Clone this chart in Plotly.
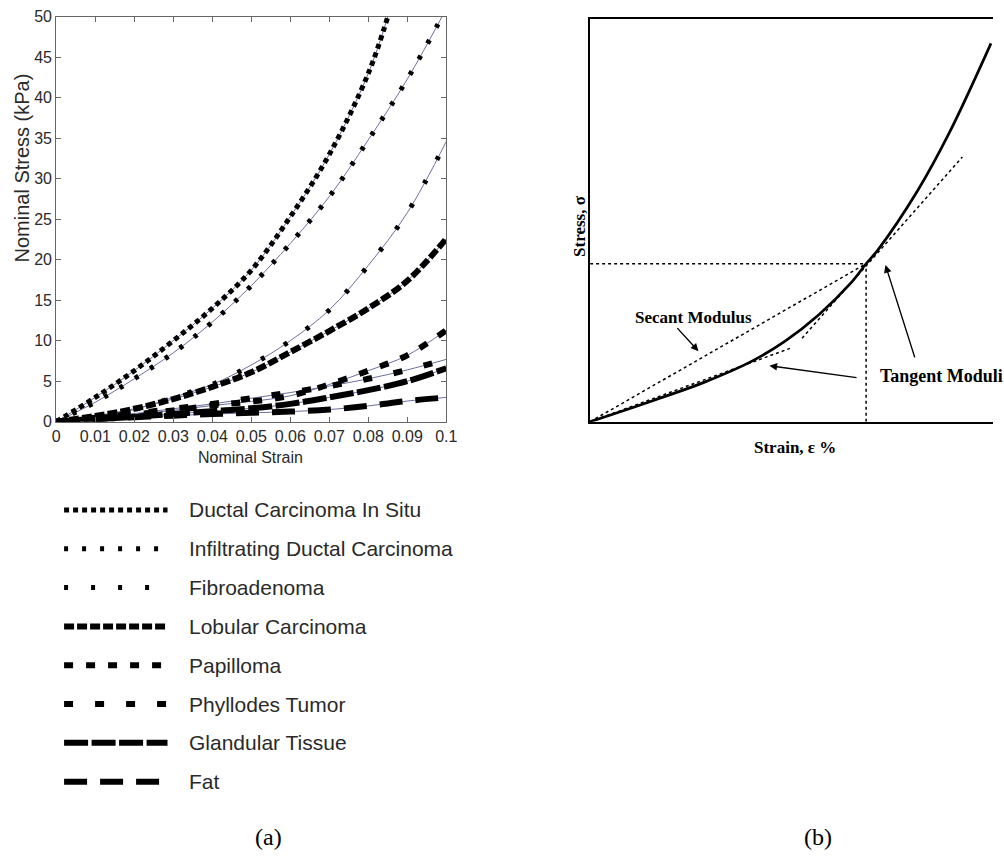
import plotly.graph_objects as go

W, H = 1004, 865

# ---------------- panel (a): nominal stress vs nominal strain ----------------
strain = [0.0, 0.01, 0.02, 0.03, 0.04, 0.05, 0.06, 0.07, 0.08, 0.09, 0.10]
strain_dcis = [0.0, 0.01, 0.02, 0.03, 0.04, 0.05, 0.06, 0.07, 0.08, 0.085]

stress_dcis = [0, 3.0, 6.3, 10.0, 14.0, 18.7, 25.3, 33.0, 43.0, 50.0]
stress_idc = [0, 2.4, 5.3, 8.5, 12.3, 16.8, 22.0, 27.8, 34.8, 42.3, 51.0]
stress_fibro = [0, 0.6, 1.5, 3.0, 4.6, 7.0, 10.0, 13.8, 19.3, 25.8, 34.6]
stress_lobular = [0, 0.7, 1.6, 2.8, 4.3, 6.1, 8.6, 11.2, 14.0, 17.4, 22.6]
stress_papilloma = [0, 0.4, 0.9, 1.4, 2.0, 2.5, 3.2, 4.6, 6.3, 8.2, 11.3]
stress_phyllodes = [0, 0.5, 1.0, 1.6, 2.2, 2.9, 3.6, 4.4, 5.3, 6.4, 7.7]
stress_glandular = [0, 0.3, 0.6, 0.95, 1.3, 1.65, 2.2, 3.0, 3.9, 5.0, 6.6]
stress_fat = [0, 0.3, 0.55, 0.75, 0.95, 1.1, 1.25, 1.5, 1.95, 2.55, 3.0]

tissue_names = [
    "Ductal Carcinoma In Situ",
    "Infiltrating Ductal Carcinoma",
    "Fibroadenoma",
    "Lobular Carcinoma",
    "Papilloma",
    "Phyllodes Tumor",
    "Glandular Tissue",
    "Fat",
]

x_tick_vals = [0, 0.01, 0.02, 0.03, 0.04, 0.05, 0.06, 0.07, 0.08, 0.09, 0.1]
x_tick_text = ["0", "0.01", "0.02", "0.03", "0.04", "0.05", "0.06", "0.07", "0.08", "0.09", "0.1"]
y_tick_vals = [0, 5, 10, 15, 20, 25, 30, 35, 40, 45, 50]

# ---------------- panel (b): schematic stress-strain curve ----------------
curve_x = [0, 1.59, 2.81, 4.03, 4.84, 5.67, 6.48, 6.85, 7.14, 8.12, 8.92, 9.95]
curve_y = [0, 0.535, 0.97, 1.51, 2.0, 2.65, 3.45, 3.92, 4.26, 5.72, 7.18, 9.39]
ref_point = (6.85, 3.92)
tangent_hi_x = [5.26, 9.24]
tangent_hi_y = [2.07, 6.57]
tangent_lo_x = [0, 4.96]
tangent_lo_y = [0, 1.82]

# line styles for each tissue: (dash pattern, width)
styles = [
    ("5px,4px", 5),
    ("4px,14px", 5),
    ("4px,23px", 5),
    ("10px,3px", 6),
    ("9px,13px", 6),
    ("9px,22px", 6),
    ("24px,3.5px", 6),
    ("23px,13px", 6),
]
series = [
    (strain_dcis, stress_dcis),
    (strain, stress_idc),
    (strain, stress_fibro),
    (strain, stress_lobular),
    (strain, stress_papilloma),
    (strain, stress_phyllodes),
    (strain, stress_glandular),
    (strain, stress_fat),
]

FIT_COLOR = "#6a6f9e"
SANS = "Liberation Sans, Arial, Helvetica, sans-serif"
SERIF = "Liberation Serif, Times New Roman, DejaVu Serif, serif"

fig = go.Figure()

# fitted curves (thin) and measured data (thick patterned)
for (xs, ys), name in zip(series, tissue_names):
    fig.add_trace(go.Scatter(x=xs, y=ys, mode="lines", line=dict(color=FIT_COLOR, width=1, shape="spline"),
                             xaxis="x", yaxis="y", showlegend=False, hoverinfo="skip"))
for (xs, ys), name, (dash, w) in zip(series, tissue_names, styles):
    fig.add_trace(go.Scatter(x=xs, y=ys, mode="lines", name=name,
                             line=dict(color="black", width=w, dash=dash, shape="spline"),
                             xaxis="x", yaxis="y", showlegend=False))

# legend samples drawn on a page-sized overlay axis (pixel units)
LEG_X0, LEG_X1, LEG_Y0, LEG_DY, LEG_TX = 61, 166, 512, 39.6, 186
for i, (name, (dash, w)) in enumerate(zip(tissue_names, styles)):
    yy = LEG_Y0 + i * LEG_DY
    fig.add_trace(go.Scatter(x=[LEG_X0, LEG_X1], y=[yy, yy], mode="lines",
                             line=dict(color="black", width=w, dash=dash),
                             xaxis="x3", yaxis="y3", showlegend=False, hoverinfo="skip"))

# panel (b) traces
fig.add_trace(go.Scatter(x=curve_x, y=curve_y, mode="lines", line=dict(color="black", width=2.7, shape="spline"),
                         xaxis="x2", yaxis="y2", showlegend=False))
DOT = dict(color="black", width=1.5, dash="3px,3px")
fig.add_trace(go.Scatter(x=[0, ref_point[0]], y=[ref_point[1], ref_point[1]], mode="lines", line=DOT,
                         xaxis="x2", yaxis="y2", showlegend=False))
fig.add_trace(go.Scatter(x=[ref_point[0], ref_point[0]], y=[0, ref_point[1]], mode="lines", line=DOT,
                         xaxis="x2", yaxis="y2", showlegend=False))
fig.add_trace(go.Scatter(x=[0, ref_point[0]], y=[0, ref_point[1]], mode="lines", line=DOT,
                         xaxis="x2", yaxis="y2", showlegend=False))
fig.add_trace(go.Scatter(x=tangent_hi_x, y=tangent_hi_y, mode="lines", line=DOT,
                         xaxis="x2", yaxis="y2", showlegend=False))
fig.add_trace(go.Scatter(x=tangent_lo_x, y=tangent_lo_y, mode="lines", line=DOT,
                         xaxis="x2", yaxis="y2", showlegend=False))

annotations = []
for i, name in enumerate(tissue_names):
    annotations.append(dict(x=LEG_TX, y=LEG_Y0 + i * LEG_DY, xref="x3", yref="y3", text=name,
                            showarrow=False, xanchor="left", yanchor="middle",
                            font=dict(family=SANS, size=21, color="#2a2a2a")))

annotations += [
    dict(x=18, y=163, xref="x3", yref="y3", text="Nominal Stress (kPa)", textangle=-90,
         showarrow=False, font=dict(family=SANS, size=20, color="#2a2a2a")),
    dict(x=250, y=458, xref="x3", yref="y3", text="Nominal Strain",
         showarrow=False, font=dict(family=SANS, size=16, color="#2a2a2a")),
    dict(x=268, y=846, xref="x3", yref="y3", text="(a)", showarrow=False,
         font=dict(family=SERIF, size=24, color="black")),
    dict(x=826, y=846, xref="x3", yref="y3", text="(b)", showarrow=False,
         font=dict(family=SERIF, size=24, color="black")),
    dict(x=584, y=222, xref="x3", yref="y3", text="<b>Stress, σ</b>", textangle=-90,
         showarrow=False, font=dict(family=SERIF, size=17, color="black")),
    dict(x=803, y=448, xref="x3", yref="y3", text="<b>Strain, ε %</b>",
         showarrow=False, font=dict(family=SERIF, size=17, color="black")),
    dict(x=2.57, y=2.58, xref="x2", yref="y2", text="<b>Secant Modulus</b>",
         showarrow=False, font=dict(family=SERIF, size=17, color="black")),
    dict(x=7.14, y=1.14, xref="x2", yref="y2", text="<b>Tangent Moduli</b>", xanchor="left",
         showarrow=False, font=dict(family=SERIF, size=18, color="black")),
]
# arrows in panel (b): (head x, head y, tail x, tail y)
arrows = [(2.69, 1.75, 2.13, 2.36), (7.33, 3.89, 8.07, 1.56), (4.45, 1.39, 6.65, 1.09)]
for hx, hy, tx, ty in arrows:
    annotations.append(dict(x=hx, y=hy, ax=tx, ay=ty, xref="x2", yref="y2", axref="x2", ayref="y2",
                            text="", showarrow=True, arrowhead=2, arrowsize=1.1, arrowwidth=1.4,
                            arrowcolor="black"))

AX_A = dict(showgrid=False, zeroline=False, showline=True, linecolor="#666", linewidth=1,
            mirror="ticks", ticks="inside", ticklen=5, tickcolor="#666",
            ticklabeloverflow="allow",
            tickfont=dict(family=SANS, size=16, color="#2a2a2a"))

fig.update_layout(
    width=W, height=H, margin=dict(l=0, r=0, t=0, b=0),
    paper_bgcolor="white", plot_bgcolor="rgba(0,0,0,0)",
    xaxis=dict(domain=[53 / W, 449 / W], range=[0, 0.1], anchor="y",
               tickvals=x_tick_vals, ticktext=x_tick_text, **AX_A),
    yaxis=dict(domain=[(H - 422) / H, (H - 9) / H], range=[0, 50], anchor="x",
               tickvals=y_tick_vals, **AX_A),
    xaxis2=dict(domain=[595 / W, 1.0], range=[0, 10], anchor="y2", showgrid=False, zeroline=False,
                showline=True, linecolor="black", linewidth=2, mirror=True, showticklabels=False, ticks=""),
    yaxis2=dict(domain=[(H - 422) / H, (H - 11) / H], range=[0, 10], anchor="x2", showgrid=False,
                zeroline=False, showline=True, linecolor="black", linewidth=2, mirror=False,
                showticklabels=False, ticks=""),
    xaxis3=dict(domain=[0, 1], range=[0, W], anchor="y3", visible=False, fixedrange=True),
    yaxis3=dict(domain=[0, 1], range=[H, 0], anchor="x3", visible=False, fixedrange=True),
    annotations=annotations,
)

fig.write_html("out.html")
